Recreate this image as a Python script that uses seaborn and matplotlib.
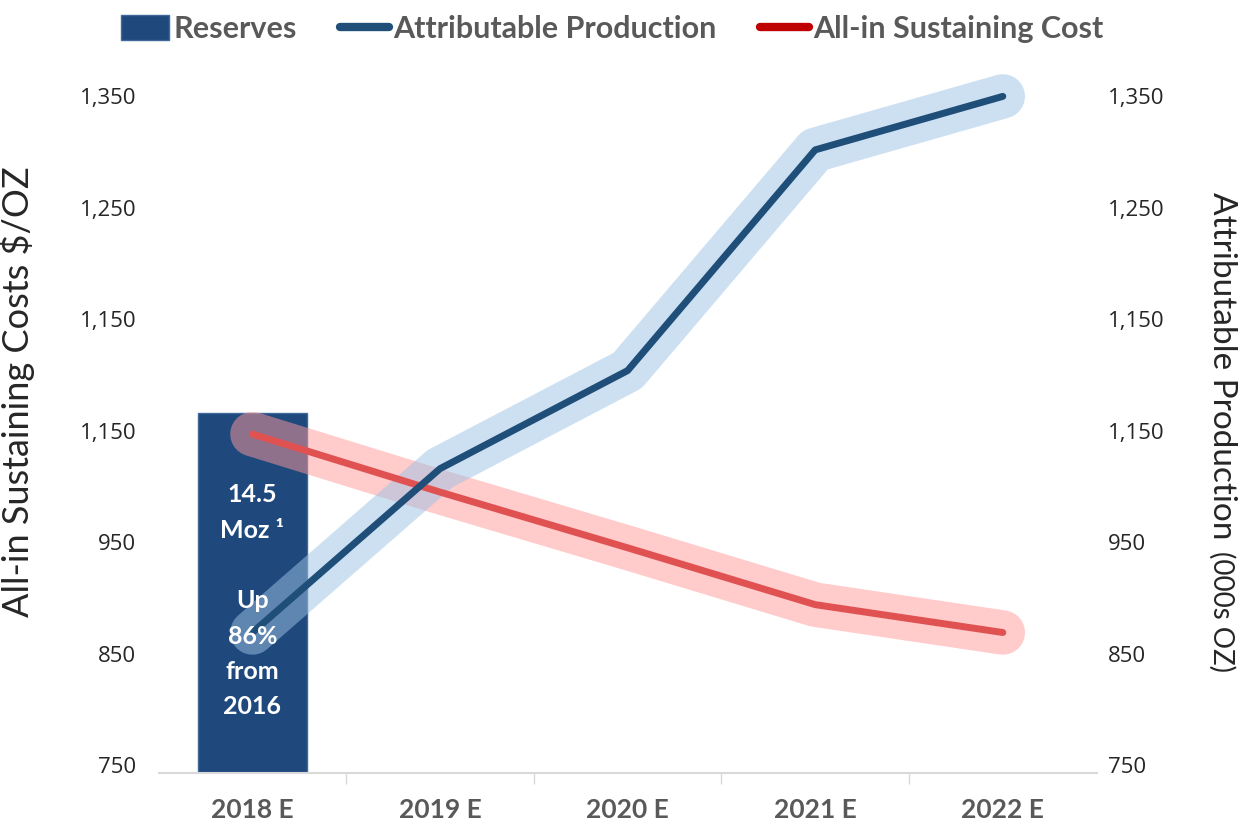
import numpy as np
import pandas as pd
import matplotlib.pyplot as plt
import seaborn as sns
from matplotlib.patches import Patch
from matplotlib.lines import Line2D

# chart values
years = ["2018 E", "2019 E", "2020 E", "2021 E", "2022 E"]
reserves = [1066, np.nan, np.nan, np.nan, np.nan]
aisc = [1047, 995, 945, 894, 869]
production = [869, 1016, 1104, 1302, 1350]
tick_vals = [750, 850, 950, 1050, 1150, 1250, 1350]
tick_labels = ["750", "850", "950", "1,150", "1,150", "1,250", "1,350"]

sns.set_theme(style="white")
plt.rcParams['font.family'] = ['Lato', 'DejaVu Sans']

df = pd.DataFrame({"year": years, "pos": range(len(years)),
                   "reserves": reserves, "aisc": aisc, "production": production})

BAR = '#1f497d'
BLUE = '#1f4e79'
RED = '#e05252'
GRAY = '#595959'

fig = plt.figure(figsize=(12.49, 8.36), dpi=100)
ax = fig.add_axes([0.127, 0.0754, 0.751, 0.876])

sns.barplot(data=df, x="year", y="reserves", order=years, color=BAR,
            width=0.58, saturation=1, edgecolor='#41689a', linewidth=1, ax=ax)

# wide translucent halos, then the lines
sns.lineplot(data=df, x="pos", y="aisc", color='#ff9999', alpha=0.5, lw=32,
             solid_capstyle='round', ax=ax)
sns.lineplot(data=df, x="pos", y="production", color='#9dc3e6', alpha=0.5, lw=32,
             solid_capstyle='round', ax=ax)
sns.lineplot(data=df, x="pos", y="aisc", color=RED, lw=5,
             solid_capstyle='round', ax=ax)
sns.lineplot(data=df, x="pos", y="production", color=BLUE, lw=5,
             solid_capstyle='round', ax=ax)

ax.text(0, 1003, "14.5\nMoz \u00b9\n\nUp\n86%\nfrom\n2016", color='white',
        fontsize=18, fontweight='bold', ha='center', va='top', linespacing=1.65)

ax.set_xlim(-0.5, 4.5)
ax.set_ylim(743, 1400)
ax.set_yticks(tick_vals)
ax.set_yticklabels(tick_labels, fontsize=16, family=['Open Sans', 'DejaVu Sans'])
ax.set_xticks(range(len(years)))
ax.set_xticklabels(years, fontsize=19, fontweight='bold', color=GRAY)
ax.set_xticks(np.arange(len(years) - 1) + 0.5, minor=True)
ax.tick_params(axis='x', which='major', length=0, pad=18)
ax.tick_params(axis='x', which='minor', length=8, color='#d9d9d9', width=1, bottom=True)
ax.tick_params(axis='y', length=0, pad=16)
ax.set_xlabel("")
ax.set_ylabel("All-in Sustaining Costs $/OZ", fontsize=26)
ax.yaxis.set_label_coords(-0.132, 0.52)
for s in ['top', 'right', 'left']:
    ax.spines[s].set_visible(False)
ax.spines['bottom'].set_color('#d9d9d9')
ax.spines['bottom'].set_linewidth(1.5)

ax2 = ax.twinx()
ax2.set_ylim(ax.get_ylim())
ax2.set_yticks(tick_vals)
ax2.set_yticklabels(tick_labels, fontsize=16, family=['Open Sans', 'DejaVu Sans'])
ax2.tick_params(axis='y', length=0, pad=8)
for s in ax2.spines.values():
    s.set_visible(False)

fig.text(0.978, 0.563, "Attributable Production", rotation=-90, fontsize=24,
         ha='center', va='center')
fig.text(0.978, 0.268, "(000s OZ)", rotation=-90, fontsize=20, ha='center', va='center')

handles = [Patch(facecolor=BAR, edgecolor='#41689a'),
           Line2D([], [], color=BLUE, lw=6, solid_capstyle='round'),
           Line2D([], [], color='#c00000', lw=6, solid_capstyle='round')]
labels = ["Reserves", "Attributable Production", "All-in Sustaining Cost"]
fig.legend(handles, labels, loc='upper center', bbox_to_anchor=(0.49, 1.015), ncol=3,
           frameon=False, prop={'size': 22, 'weight': 'bold'}, labelcolor=GRAY,
           handlelength=1.6, handleheight=0.9, handletextpad=0.15, columnspacing=1.4)

fig.savefig("out.png", dpi=100)
